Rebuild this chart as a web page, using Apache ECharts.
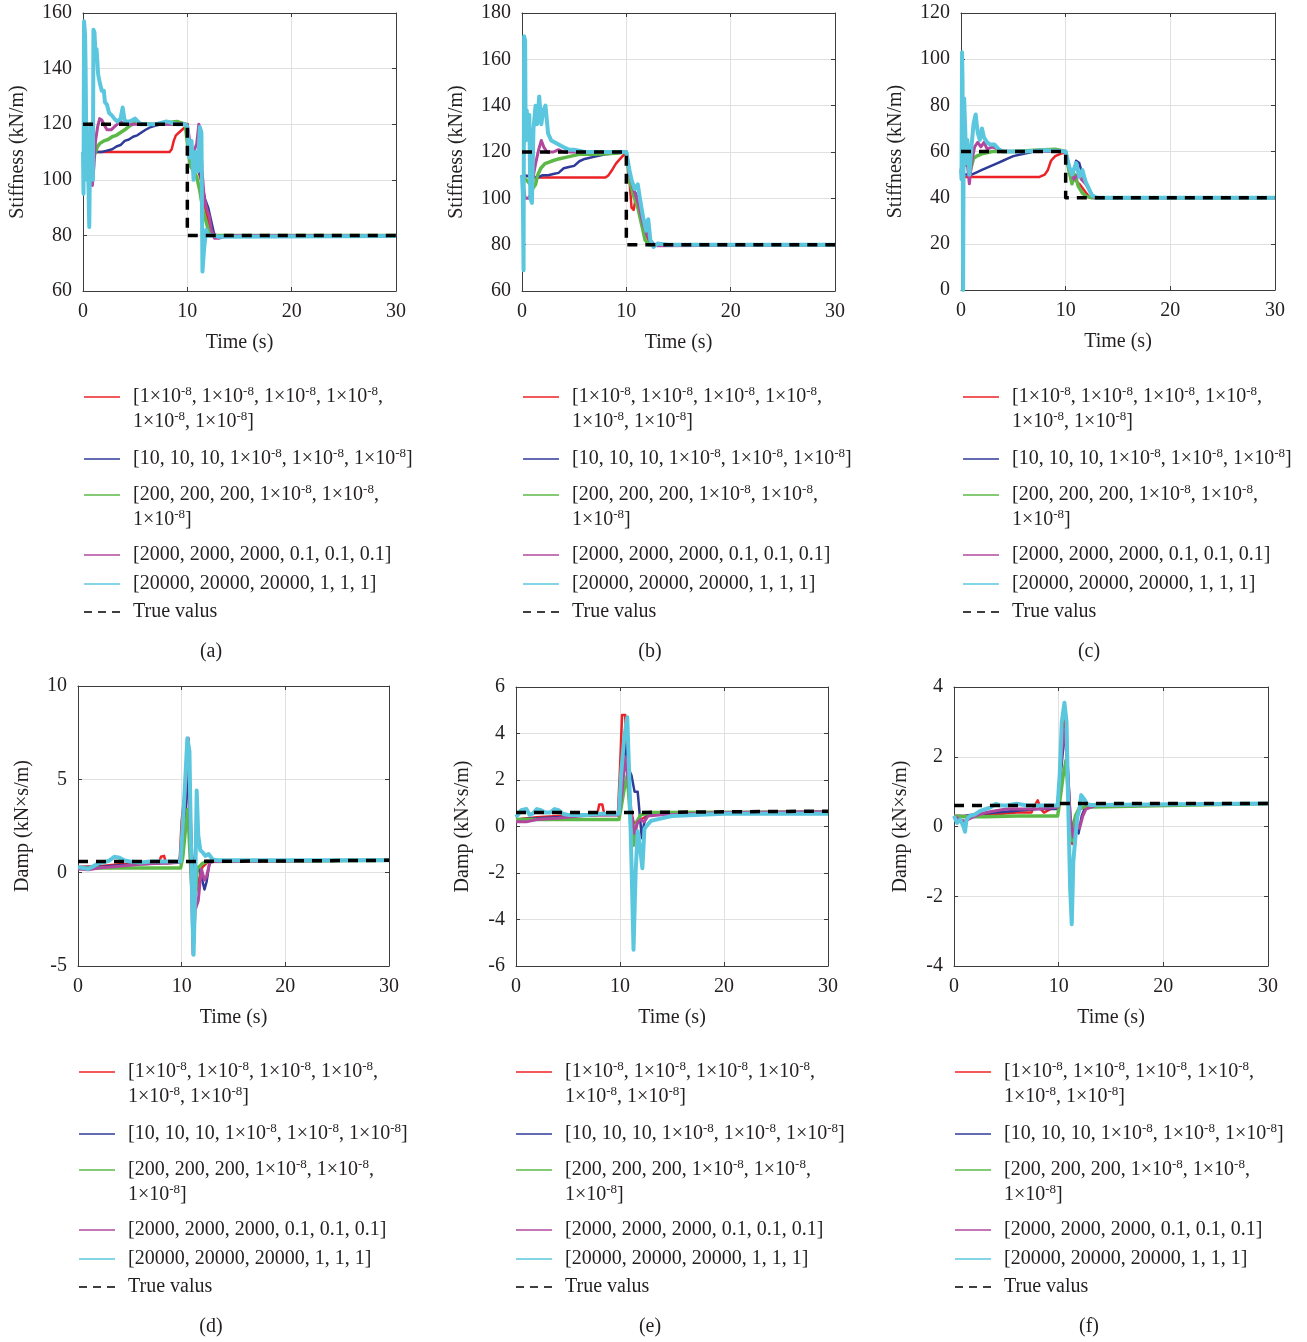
<!DOCTYPE html>
<html>
<head>
<meta charset="utf-8">
<title>Stiffness and damping identification</title>
<script src="https://cdn.jsdelivr.net/npm/echarts@6/dist/echarts.min.js"></script>
<style>
  html, body { margin: 0; padding: 0; background: #ffffff; }
  #chart { width: 1307px; height: 1342px; }
</style>
</head>
<body>
<div id="chart"></div>
<script>
// ---- identified stiffness, case (a): [time s, kN/m]
const A_red = [[0,110],[1,110],[2,110],[4,110],[6,110],[8.3,110],[8.5,111],[8.7,114],[8.9,116],[9.2,117],[9.5,118],[9.8,119],[10,120],[10.2,112],[10.5,107],[10.9,105],[11.3,100],[11.7,90],[12.0,85],[12.4,81],[12.8,80],[30,80]];
const A_blue = [[0,110],[1.2,110],[1.8,110],[2.3,110.5],[2.8,111],[3.2,112],[3.6,112.5],[4.0,114],[4.4,114.5],[4.8,115.5],[5.2,116],[5.6,117],[6.0,118],[6.5,119],[7.0,119.5],[7.5,120],[8.5,120],[9.5,120],[10,120],[10.2,113],[10.5,107],[10.8,106],[11.1,104],[11.4,99],[11.7,93],[12.0,90],[12.3,85],[12.6,80],[13,80],[30,80]];
const A_green = [[0,110],[1.0,108],[1.2,110],[1.4,112],[1.6,113],[2.0,114],[2.4,114.5],[2.8,115.5],[3.2,116],[3.6,117],[4.0,118],[4.5,119.5],[5.0,120.5],[6,120],[7,120],[8,120.5],[9,121],[9.8,120],[10.1,110],[10.3,105],[10.6,103],[10.9,101],[11.2,96],[11.5,89],[11.8,85],[12.0,82],[12.3,80],[30,80]];
const A_mag = [[0,110],[0.3,102],[0.6,100],[0.9,98],[1.05,105],[1.2,114],[1.4,119],[1.6,122],[1.8,121.5],[2.0,120],[2.3,118],[2.7,118],[3.0,119],[3.3,120],[3.6,121],[4.0,120],[5,120],[7,120],[10,120],[10.3,112],[10.6,110],[10.9,113],[11.1,120],[11.25,116],[11.4,104],[11.6,94],[11.9,89],[12.1,87],[12.3,82],[12.6,79],[13.0,79],[14,80],[30,80]];
const A_cyan = [[0,110],[0.05,95],[0.1,157],[0.2,152],[0.25,140],[0.3,120],[0.35,100],[0.45,112],[0.6,83],[0.7,120],[0.85,112],[0.95,100],[1.0,154],[1.1,153],[1.2,145],[1.3,147],[1.45,138],[1.6,135],[1.8,132],[2.0,132],[2.1,128],[2.3,127],[2.5,124],[2.8,123],[3.0,122],[3.3,121],[3.6,122],[3.8,126],[4.0,121],[4.5,121],[5.0,122],[5.5,120],[6,120],[7,120],[8,121],[9,120],[9.8,120],[10,119],[10.2,108],[10.4,114],[10.6,100],[10.8,110],[11.0,103],[11.2,119],[11.35,117],[11.45,67],[11.6,75],[11.8,82],[12.0,80],[12.5,80],[13,79.5],[30,79.8]];
const A_true = [[0,120],[10,120],[10,80],[30,80]];

// ---- identified stiffness, case (b)
const B_red = [[0,110],[1.5,109],[4,109],[8,109],[8.3,110],[8.6,112],[9.0,115],[9.4,117],[9.8,119],[10,120],[10.3,108],[10.5,96],[10.7,95],[10.9,100],[11.3,94],[11.7,87],[12.1,82],[12.5,80],[30,80]];
const B_blue = [[0,110],[1.5,109],[2,110],[2.5,110],[3,110.5],[3.5,111],[4,113],[4.5,113.5],[5,114],[5.5,116],[6,117],[6.5,117.5],[7,118],[8,119],[9,119.5],[10,120],[10.3,110],[10.7,104],[11.1,100],[11.5,94],[11.9,87],[12.3,82],[12.7,80],[30,80]];
const B_green = [[0,110],[0.8,106],[1.0,104],[1.3,106],[1.5,110],[1.8,113],[2.2,115],[2.8,116],[3.5,117],[4.5,118],[5.5,119],[7,119],[9,119.5],[10,120],[10.3,108],[10.7,101],[11.1,96],[11.5,88],[11.8,82],[12.2,80],[30,80]];
const B_mag = [[0,110],[0.3,100],[0.6,100],[0.9,102],[1.1,110],[1.3,115],[1.6,121],[1.85,125],[2.1,122],[2.4,120],[3,120],[3.5,121],[4,120],[10,120],[10.3,110],[10.7,104],[11.2,97],[11.6,89],[12.0,84],[12.5,80],[13,79.5],[30,80]];
const B_cyan = [[0,110],[0.08,102],[0.15,69],[0.2,170],[0.3,168],[0.35,125],[0.45,138],[0.6,130],[0.7,136],[0.8,100],[0.95,98],[1.1,130],[1.3,140],[1.45,132],[1.65,144],[1.85,132],[2.05,138],[2.25,140],[2.5,128],[2.8,125],[3.2,124],[3.6,123],[4,122],[4.5,121],[5,121],[6,120],[8,120],[10,120],[10.3,112],[10.5,108],[10.8,104],[11.1,106],[11.3,100],[11.6,92],[11.9,86],[12.1,91],[12.3,82],[12.6,79],[13,80.5],[14,80],[30,80]];
const B_true = [[0,120],[10,120],[10,80],[30,80]];

// ---- identified stiffness, case (c)
const C_red = [[0,49],[1,49],[4,49],[7.5,49],[8.0,50],[8.3,52],[8.6,56],[9.0,58],[9.5,59],[10,59.5],[10.3,52],[10.8,48],[11.3,46],[11.8,43],[12.3,40],[30,40]];
const C_blue = [[0,50],[1,50],[1.5,51],[2,52],[2.5,53],[3,54],[3.5,55],[4,56],[4.5,57],[5,58],[6,59],[7,60],[8,60],[10,60],[10.3,52],[10.7,50],[11.0,56],[11.3,55],[11.6,50],[12,46],[12.4,42],[12.8,40],[30,40]];
const C_green = [[0,52],[0.5,55],[0.9,52],[1.2,57],[1.5,58],[2,59],[3,60],[5,60],[7,60.5],[9,61],[10,60],[10.3,52],[10.6,46],[10.9,50],[11.2,45],[11.6,42],[12,40.5],[12.5,40],[30,40]];
const C_mag = [[0,52],[0.4,62],[0.6,55],[0.8,46],[1.0,55],[1.3,62],[1.6,64],[1.9,62],[2.2,64],[2.5,61],[3,62],[3.5,61],[4,60],[10,60],[10.4,52],[10.8,48],[11.2,50],[11.5,48],[11.9,46],[12.3,43],[12.7,40],[30,40]];
const C_cyan = [[0,52],[0.05,48],[0.1,103],[0.15,90],[0.2,0],[0.25,60],[0.3,83],[0.4,70],[0.5,55],[0.6,65],[0.7,58],[0.8,50],[1.0,62],[1.2,72],[1.4,76],[1.6,68],[1.8,65],[2.0,70],[2.2,66],[2.5,64],[2.8,63],[3.2,63],[3.6,61],[4.0,60],[5,60],[6,60],[8,60.5],[10,60],[10.3,54],[10.6,50],[11.0,55],[11.3,49],[11.6,52],[11.9,47],[12.2,44],[12.5,41],[13,40],[30,40]];
const C_true = [[0,60],[10,60],[10,40],[30,40]];

// ---- identified damping, case (d): [time s, kN·s/m]
const D_red = [[0,0.3],[2,0.35],[4,0.45],[6,0.5],[7.8,0.5],[8.0,0.85],[8.3,0.9],[8.5,0.5],[9.8,0.55],[10.0,2.8],[10.3,4.3],[10.6,5.0],[10.9,1.0],[11.2,-1.5],[11.6,-0.5],[12.0,0.3],[12.5,0.55],[13,0.62],[30,0.66]];
const D_blue = [[0,0.3],[2,0.3],[4,0.4],[6,0.45],[8,0.5],[9.8,0.55],[10.1,1.5],[10.4,3.5],[10.7,5.5],[11.0,1.0],[11.3,-0.3],[11.6,0.3],[11.9,-0.2],[12.2,-0.9],[12.4,-0.5],[12.7,0.6],[13,0.65],[30,0.66]];
const D_green = [[0,0.25],[1,0.25],[5,0.25],[9.9,0.25],[10.1,0.8],[10.4,2.5],[10.6,3.4],[10.8,1.0],[11.0,-1.0],[11.2,-2.2],[11.5,0.2],[12.0,0.5],[12.5,0.6],[30,0.66]];
const D_mag = [[0,0.2],[1,0.15],[2,0.25],[4,0.35],[6,0.45],[8,0.5],[9.8,0.55],[10.1,2.0],[10.4,5.0],[10.65,7.2],[10.8,3.0],[11.0,-2.0],[11.1,-4.4],[11.3,-2.0],[11.6,-1.5],[11.9,0.2],[12.2,-0.4],[12.4,-0.2],[12.7,0.5],[13,0.6],[30,0.66]];
const D_cyan = [[0,0.3],[0.5,0.25],[1,0.2],[1.5,0.35],[2,0.5],[2.5,0.55],[3,0.65],[3.5,0.85],[4,0.8],[4.5,0.65],[5,0.6],[6,0.55],[7,0.6],[8,0.6],[9,0.6],[9.9,0.6],[10.1,2.5],[10.3,4.5],[10.55,7.2],[10.75,6.5],[10.9,1.5],[11.05,-2.5],[11.15,-4.4],[11.3,-1.0],[11.45,4.4],[11.6,2.0],[11.8,1.2],[12.0,1.1],[12.3,0.9],[12.6,1.0],[13,0.7],[13.5,0.66],[30,0.66]];
const D_true = [[0,0.6],[10,0.6],[10,0.66],[30,0.66]];

// ---- identified damping, case (e)
const E_red = [[0,0.3],[2,0.4],[4,0.45],[6,0.5],[7.8,0.5],[8.0,0.95],[8.3,0.95],[8.5,0.5],[9.0,0.6],[9.8,0.55],[10.0,2.5],[10.2,4.8],[10.5,4.8],[10.7,2.5],[11.0,0.8],[11.3,0.2],[11.6,0.1],[12,0.3],[13,0.55],[15,0.6],[30,0.62]];
const E_blue = [[0,0.3],[2,0.35],[4,0.4],[6,0.45],[8,0.5],[9.9,0.5],[10.2,1.8],[10.5,3.5],[10.8,2.5],[11.1,2.2],[11.4,1.5],[11.7,1.5],[11.9,0.5],[12.1,-0.5],[12.3,0.1],[12.6,0.5],[14,0.6],[30,0.62]];
const E_green = [[0,0.3],[1,0.3],[5,0.3],[9.9,0.3],[10.1,0.8],[10.4,1.6],[10.7,2.2],[10.9,1.0],[11.1,-0.5],[11.3,-0.8],[11.6,0.2],[12,0.5],[13,0.6],[30,0.62]];
const E_mag = [[0,0.2],[1,0.2],[2,0.3],[4,0.35],[6,0.45],[8,0.5],[9.9,0.5],[10.2,1.5],[10.5,3.0],[10.8,2.0],[11.1,0.5],[11.4,-0.3],[11.7,0.2],[12.0,0.3],[12.3,0.2],[12.7,0.45],[14,0.5],[20,0.6],[30,0.63]];
const E_cyan = [[0,0.4],[0.5,0.7],[1,0.75],[1.3,0.5],[1.6,0.55],[2.0,0.75],[2.4,0.7],[2.8,0.6],[3.3,0.6],[3.7,0.75],[4.1,0.7],[4.5,0.55],[5,0.5],[6,0.5],[7,0.5],[8,0.55],[9,0.55],[9.9,0.55],[10.1,2.2],[10.4,3.8],[10.7,4.7],[10.9,2.0],[11.1,-1.5],[11.3,-5.3],[11.5,-2.0],[11.7,-0.2],[11.9,-0.8],[12.15,-1.8],[12.35,-0.1],[12.6,0.05],[13,0.25],[14,0.35],[15,0.45],[20,0.55],[30,0.55]];
const E_true = [[0,0.6],[10,0.6],[10,0.66],[30,0.66]];

// ---- identified damping, case (f)
const F_red = [[0,0.3],[2,0.3],[4,0.35],[6,0.4],[7.4,0.4],[7.6,0.55],[8.0,0.75],[8.3,0.5],[8.6,0.4],[9.2,0.5],[9.9,0.55],[10.2,2.0],[10.5,3.1],[10.8,2.0],[11.0,0.5],[11.3,-0.5],[11.6,0.2],[12.0,0.5],[13,0.6],[30,0.66]];
const F_blue = [[0,0.3],[1,0.3],[2,0.35],[4,0.4],[6,0.45],[8,0.5],[9.9,0.5],[10.2,1.5],[10.6,2.8],[10.9,1.5],[11.2,-0.2],[11.5,0.2],[11.9,-0.2],[12.2,0.3],[12.6,0.6],[30,0.66]];
const F_green = [[0,0.3],[1,0.28],[3,0.28],[6,0.3],[9.9,0.3],[10.1,0.7],[10.4,1.4],[10.7,1.9],[10.9,1.0],[11.1,0.0],[11.3,-0.4],[11.6,0.3],[12,0.55],[30,0.66]];
const F_mag = [[0,0.3],[0.5,0.2],[1,0.15],[2,0.3],[3,0.4],[4,0.45],[5,0.5],[6,0.5],[8,0.5],[9.9,0.55],[10.2,1.8],[10.5,2.8],[10.8,2.0],[11.1,0.3],[11.4,-0.3],[11.7,0.1],[12.0,-0.05],[12.3,0.3],[12.6,0.5],[13.5,0.6],[30,0.66]];
const F_cyan = [[0,0.3],[0.3,0.1],[0.6,0.2],[0.9,0.0],[1.05,-0.15],[1.2,0.2],[1.5,0.3],[2,0.35],[2.5,0.45],[3,0.5],[3.5,0.55],[4,0.65],[4.5,0.6],[5,0.6],[6,0.65],[7,0.6],[8,0.6],[9,0.6],[9.9,0.6],[10.1,1.5],[10.3,3.0],[10.55,3.55],[10.75,3.0],[10.9,0.8],[11.1,-1.8],[11.25,-2.8],[11.4,-1.0],[11.6,-0.3],[11.8,0.3],[12.0,0.5],[12.15,0.9],[12.4,0.8],[12.7,0.65],[13,0.62],[30,0.66]];
const F_true = [[0,0.6],[10,0.6],[10,0.66],[30,0.66]];

// ---- axis ranges [min, max, interval] and titles
const X_RANGE = [0, 30, 10];
const Y_RANGES = [[60,160,20],[60,180,20],[0,120,20],[-5,10,5],[-6,6,2],[-4,4,2]];
const X_TITLE = 'Time (s)';
const Y_TITLES = ['Stiffness (kN/m)','Stiffness (kN/m)','Stiffness (kN/m)','Damp (kN×s/m)','Damp (kN×s/m)','Damp (kN×s/m)'];
const PANEL_TAGS = ['(a)','(b)','(c)','(d)','(e)','(f)'];

// legend entries; {s|...} marks a superscript run, one string per text line
const LEGEND_TEXT = [
  ['[1×10{s|-8}, 1×10{s|-8}, 1×10{s|-8}, 1×10{s|-8},', '1×10{s|-8}, 1×10{s|-8}]'],
  ['[10, 10, 10, 1×10{s|-8}, 1×10{s|-8}, 1×10{s|-8}]'],
  ['[200, 200, 200, 1×10{s|-8}, 1×10{s|-8},', '1×10{s|-8}]'],
  ['[2000, 2000, 2000, 0.1, 0.1, 0.1]'],
  ['[20000, 20000, 20000, 1, 1, 1]'],
  ['True valus']
];

const SERIES_DATA = [
  [A_red, A_blue, A_green, A_mag, A_cyan, A_true],
  [B_red, B_blue, B_green, B_mag, B_cyan, B_true],
  [C_red, C_blue, C_green, C_mag, C_cyan, C_true],
  [D_red, D_blue, D_green, D_mag, D_cyan, D_true],
  [E_red, E_blue, E_green, E_mag, E_cyan, E_true],
  [F_red, F_blue, F_green, F_mag, F_cyan, F_true]
];

// ---- layout and style
const FONT = 'Liberation Serif';
const INK = '#231f20';
const LINE_COLORS = ['#ec2227', '#2f3b98', '#5db947', '#b1489e', '#5bc7de', '#000000'];
const LINE_WIDTHS = [2.5, 2.5, 3.5, 3, 4, 3.5];
const GRIDS = [
  {left: 83, top: 13, width: 313, height: 278},
  {left: 522, top: 13, width: 313, height: 278},
  {left: 961, top: 13, width: 314, height: 277},
  {left: 78, top: 686, width: 311, height: 280},
  {left: 516, top: 687, width: 312, height: 279},
  {left: 954, top: 687, width: 314, height: 279}
];
const Y_NAME_GAP = [55, 55, 55, 45, 43, 43];
const LEG_LINE_X = [84, 523, 963, 79, 516, 955];
const LEG_ROW_Y = [397, 459, 495, 555, 584, 612];
const LEG_WRAP = 25;
const ROW_SHIFT = 675;
const TAG_X = [211, 650, 1089];
const TAG_Y = 652;

const axisLineStyle = {color: '#3c3c3c', width: 1};
const labelStyle = {fontFamily: FONT, fontSize: 20, color: INK};
const nameStyle = {fontFamily: FONT, fontSize: 20, color: INK};

const grid = [], xAxis = [], yAxis = [], series = [], graphic = [];

GRIDS.forEach((g, p) => {
  grid.push(Object.assign({containLabel: false}, g));
  const yr = Y_RANGES[p];
  // bottom and top x axes
  xAxis.push({
    gridIndex: p, type: 'value', min: X_RANGE[0], max: X_RANGE[1], interval: X_RANGE[2],
    position: 'bottom',
    axisLine: {show: true, onZero: false, lineStyle: axisLineStyle},
    axisTick: {show: true, inside: true, length: 4, lineStyle: axisLineStyle},
    axisLabel: Object.assign({margin: 11}, labelStyle),
    splitLine: {show: true, lineStyle: {color: '#e0e0e0', width: 1}},
    name: X_TITLE, nameLocation: 'middle', nameGap: 42, nameTextStyle: nameStyle
  });
  xAxis.push({
    gridIndex: p, type: 'value', min: X_RANGE[0], max: X_RANGE[1], interval: X_RANGE[2],
    position: 'top',
    axisLine: {show: true, onZero: false, lineStyle: axisLineStyle},
    axisTick: {show: true, inside: true, length: 4, lineStyle: axisLineStyle},
    axisLabel: {show: false}, splitLine: {show: false}
  });
  // left and right y axes
  yAxis.push({
    gridIndex: p, type: 'value', min: yr[0], max: yr[1], interval: yr[2],
    position: 'left',
    axisLine: {show: true, onZero: false, lineStyle: axisLineStyle},
    axisTick: {show: true, inside: true, length: 4, lineStyle: axisLineStyle},
    axisLabel: Object.assign({margin: 11}, labelStyle),
    splitLine: {show: true, lineStyle: {color: '#e0e0e0', width: 1}},
    name: Y_TITLES[p], nameLocation: 'middle', nameGap: Y_NAME_GAP[p], nameTextStyle: nameStyle
  });
  yAxis.push({
    gridIndex: p, type: 'value', min: yr[0], max: yr[1], interval: yr[2],
    position: 'right',
    axisLine: {show: true, onZero: false, lineStyle: axisLineStyle},
    axisTick: {show: true, inside: true, length: 4, lineStyle: axisLineStyle},
    axisLabel: {show: false}, splitLine: {show: false}
  });

  SERIES_DATA[p].forEach((data, k) => {
    series.push({
      type: 'line', xAxisIndex: p * 2, yAxisIndex: p * 2, data: data,
      symbol: 'none', showSymbol: false, silent: true, animation: false, clip: true,
      lineStyle: {
        color: LINE_COLORS[k], width: LINE_WIDTHS[k],
        type: k === 5 ? [10, 8] : 'solid', cap: 'butt', join: 'round'
      }
    });
  });

  // legend block under the panel
  const shift = p >= 3 ? ROW_SHIFT : 0;
  const lx = LEG_LINE_X[p];
  LEGEND_TEXT.forEach((lines, k) => {
    const y = LEG_ROW_Y[k] + shift;
    graphic.push({
      type: 'line', silent: true,
      shape: {x1: lx, y1: y, x2: lx + 36, y2: y},
      style: {stroke: LINE_COLORS[k], lineWidth: 1.5, lineDash: k === 5 ? [8, 6] : null}
    });
    lines.forEach((txt, j) => {
      graphic.push({
        type: 'text', silent: true, x: lx + 49, y: y + j * LEG_WRAP,
        style: {
          text: txt, fontFamily: FONT, fontSize: 20, lineHeight: 24, fill: INK,
          align: 'left', verticalAlign: 'middle',
          rich: {s: {fontFamily: FONT, fontSize: 13, lineHeight: 13, fill: INK, color: INK, verticalAlign: 'top'}}
        }
      });
    });
  });

  graphic.push({
    type: 'text', silent: true, x: TAG_X[p % 3], y: TAG_Y + shift,
    style: {text: PANEL_TAGS[p], fontFamily: FONT, fontSize: 20, fill: INK, align: 'center', verticalAlign: 'middle'}
  });
});

const chart = echarts.init(document.getElementById('chart'), null, {renderer: 'canvas', width: 1307, height: 1342});
chart.setOption({
  backgroundColor: '#ffffff',
  animation: false,
  grid: grid, xAxis: xAxis, yAxis: yAxis, series: series, graphic: graphic
});
</script>
</body>
</html>
